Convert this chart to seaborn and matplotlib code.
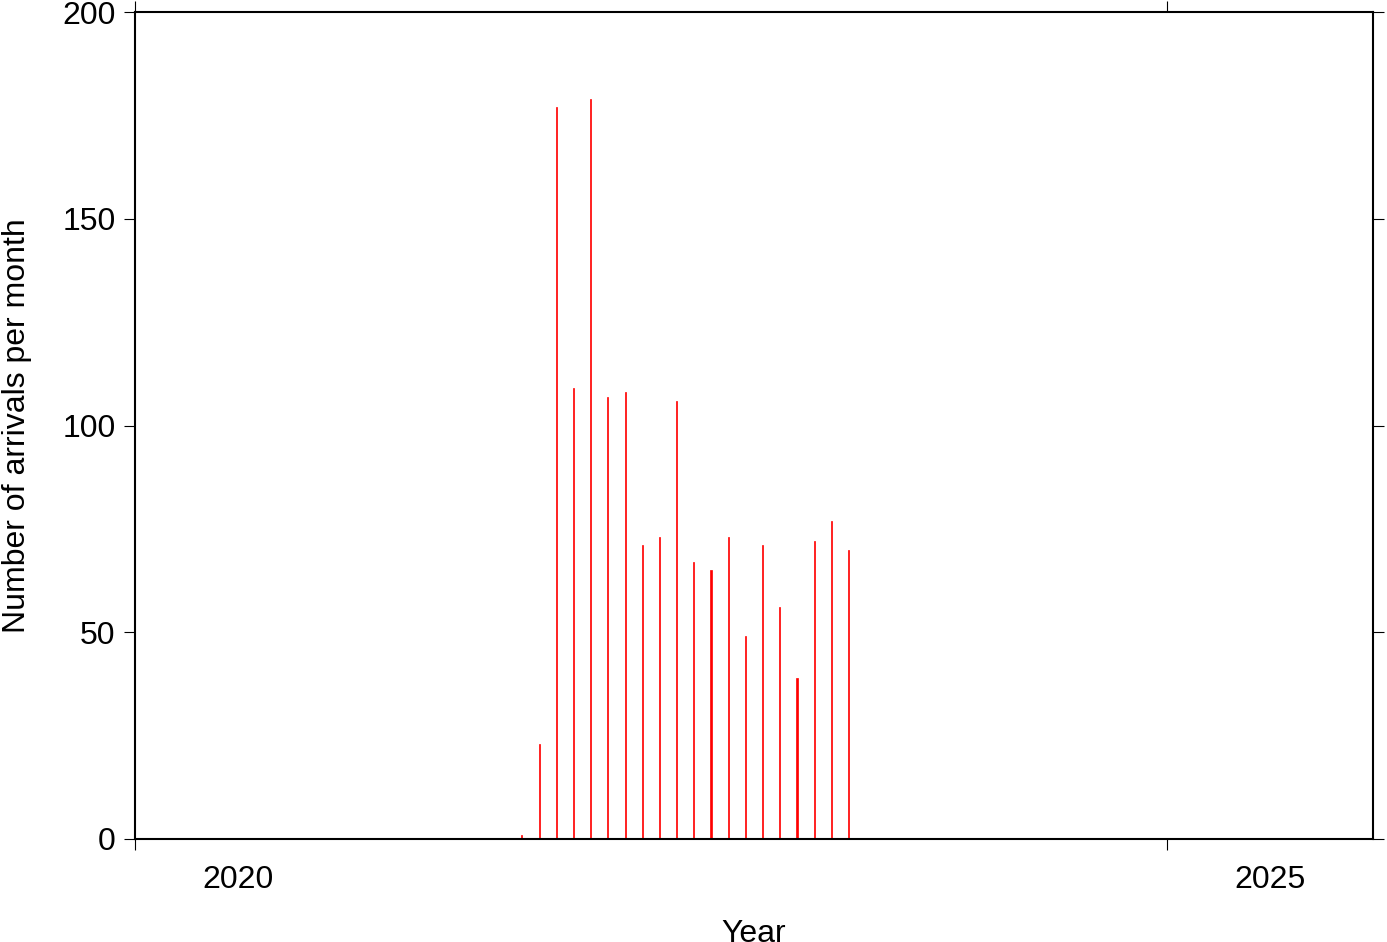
import matplotlib
matplotlib.use("Agg")
import matplotlib.pyplot as plt
import seaborn as sns
import pandas as pd

# monthly arrival counts (Nov 2021 - Jun 2023)
months = ['2021-11', '2021-12', '2022-01', '2022-02', '2022-03', '2022-04',
          '2022-05', '2022-06', '2022-07', '2022-08', '2022-09', '2022-10',
          '2022-11', '2022-12', '2023-01', '2023-02', '2023-03', '2023-04',
          '2023-05', '2023-06']
arrivals = [1, 23, 177, 109, 179, 107, 108, 71, 73, 106, 67, 65,
            73, 49, 71, 56, 39, 72, 77, 70]
year_ticks = [2020, 2025]
year_labels = ['2020', '2025']
y_ticks = [0, 50, 100, 150, 200]

dt = pd.to_datetime(months)
df = pd.DataFrame({
    'year': dt.year + (dt.month - 0.5) / 12.0,   # bar at mid-month
    'arrivals': arrivals,
})

sns.set_style('ticks')
plt.rcParams['font.family'] = ['Liberation Sans', 'DejaVu Sans']
plt.rcParams['text.color'] = 'black'
plt.rcParams['axes.labelcolor'] = 'black'
plt.rcParams['xtick.color'] = 'black'
plt.rcParams['ytick.color'] = 'black'

fs = 23

fig = plt.figure(figsize=(13.87, 9.42), dpi=100)
ax = fig.add_axes([135 / 1387, 103 / 942, 1238 / 1387, 827 / 942])

sns.barplot(data=df, x='year', y='arrivals', native_scale=True,
            color='red', saturation=1, width=0.06, linewidth=0.5,
            edgecolor='red', ax=ax)

ax.set_xlim(2020, 2026)
ax.set_ylim(0, 200)

ax.set_xticks(year_ticks)
ax.set_xticklabels([])
ax.set_xticks([t + 0.5 for t in year_ticks], minor=True)
ax.set_xticklabels(year_labels, minor=True)
ax.set_yticks(y_ticks)
ax.set_yticklabels([str(v) for v in y_ticks])

ax.tick_params(axis='both', which='major', direction='out', length=8,
               width=0.8, color='black', labelsize=fs,
               top=True, right=True)
ax.tick_params(axis='x', which='major', pad=0)
ax.tick_params(axis='x', which='minor', length=0, labelsize=fs, pad=19)
ax.tick_params(axis='y', which='major', pad=6)

for s in ax.spines.values():
    s.set_linewidth(1.5)
    s.set_color('black')

ax.set_xlabel('Year', fontsize=fs, labelpad=17)
ax.set_ylabel('Number of arrivals per month', fontsize=fs, labelpad=22)

fig.savefig('out.png', dpi=100)
